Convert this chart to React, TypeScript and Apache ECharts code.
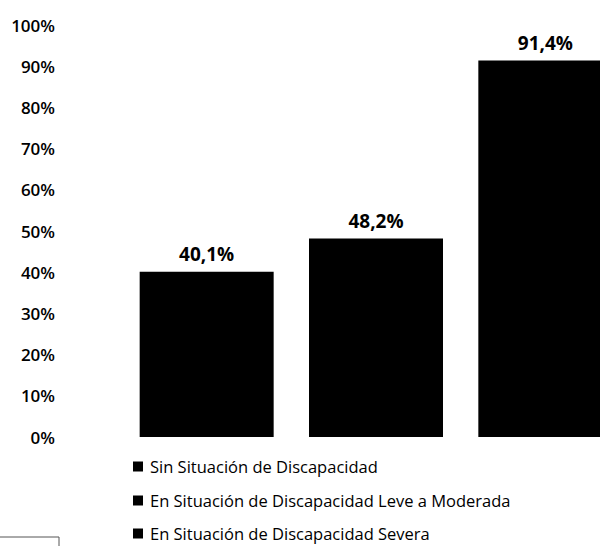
import React, { useEffect, useRef } from "react";
import * as echarts from "echarts";

const categories = ["Sin Situación de Discapacidad", "En Situación de Discapacidad Leve a Moderada", "En Situación de Discapacidad Severa"];
const values = [40.1, 48.2, 91.4];
const yTicks = [0, 10, 20, 30, 40, 50, 60, 70, 80, 90, 100];
const legendTops = [458, 492, 525];

export default function App() {
  const ref = useRef<HTMLDivElement>(null);
  useEffect(() => {
    if (!ref.current) return;
    const chart = echarts.init(ref.current, null, { renderer: "svg" });
    const font = "'Open Sans', 'Noto Sans', sans-serif";
    const series = categories.map((name, i) => ({
      name,
      type: "bar",
      barWidth: 134,
      barGap: "-100%",
      itemStyle: { color: "#000" },
      data: categories.map((_, j) => (j === i ? values[i] : "-")),
      label: {
        show: true,
        position: "top",
        distance: 8,
        color: "#000",
        fontFamily: font,
        fontWeight: "bold",
        fontSize: 19,
        formatter: (p: any) => String(p.value).replace(".", ",") + "%",
      },
    }));
    chart.setOption({
      animation: false,
      backgroundColor: "#fff",
      grid: { left: 122, width: 508, top: 25, bottom: 109, outerBoundsMode: "none", containLabel: false },
      xAxis: {
        type: "category",
        data: categories,
        axisLine: { show: false },
        axisTick: { show: false },
        axisLabel: { show: false },
      },
      yAxis: {
        type: "value",
        min: yTicks[0],
        max: yTicks[yTicks.length - 1],
        interval: 10,
        splitLine: { show: false },
        axisLine: { show: false },
        axisTick: { show: false },
        axisLabel: {
          margin: 67,
          color: "#000",
          fontFamily: font,
          fontWeight: 600,
          fontSize: 17,
          formatter: (v: number) => v + "%",
        },
      },
      legend: categories.map((name, i) => ({
        orient: "vertical",
        left: 133,
        top: legendTops[i],
        padding: 0,
        itemWidth: 10,
        itemHeight: 10,
        icon: "rect",
        data: [name],
        textStyle: { color: "#000", fontFamily: font, fontSize: 16.5, lineHeight: 17, padding: [0, 0, 0, 2] },
      })),
      graphic: [
        {
          type: "rect",
          shape: { x: -1, y: 537, width: 60, height: 14 },
          style: { fill: "none", stroke: "#555", lineWidth: 1 },
        },
      ],
      series,
    });
    return () => chart.dispose();
  }, []);
  return <div ref={ref} style={{ width: 600, height: 546, position: "absolute", left: 0, top: 0 }} />;
}
